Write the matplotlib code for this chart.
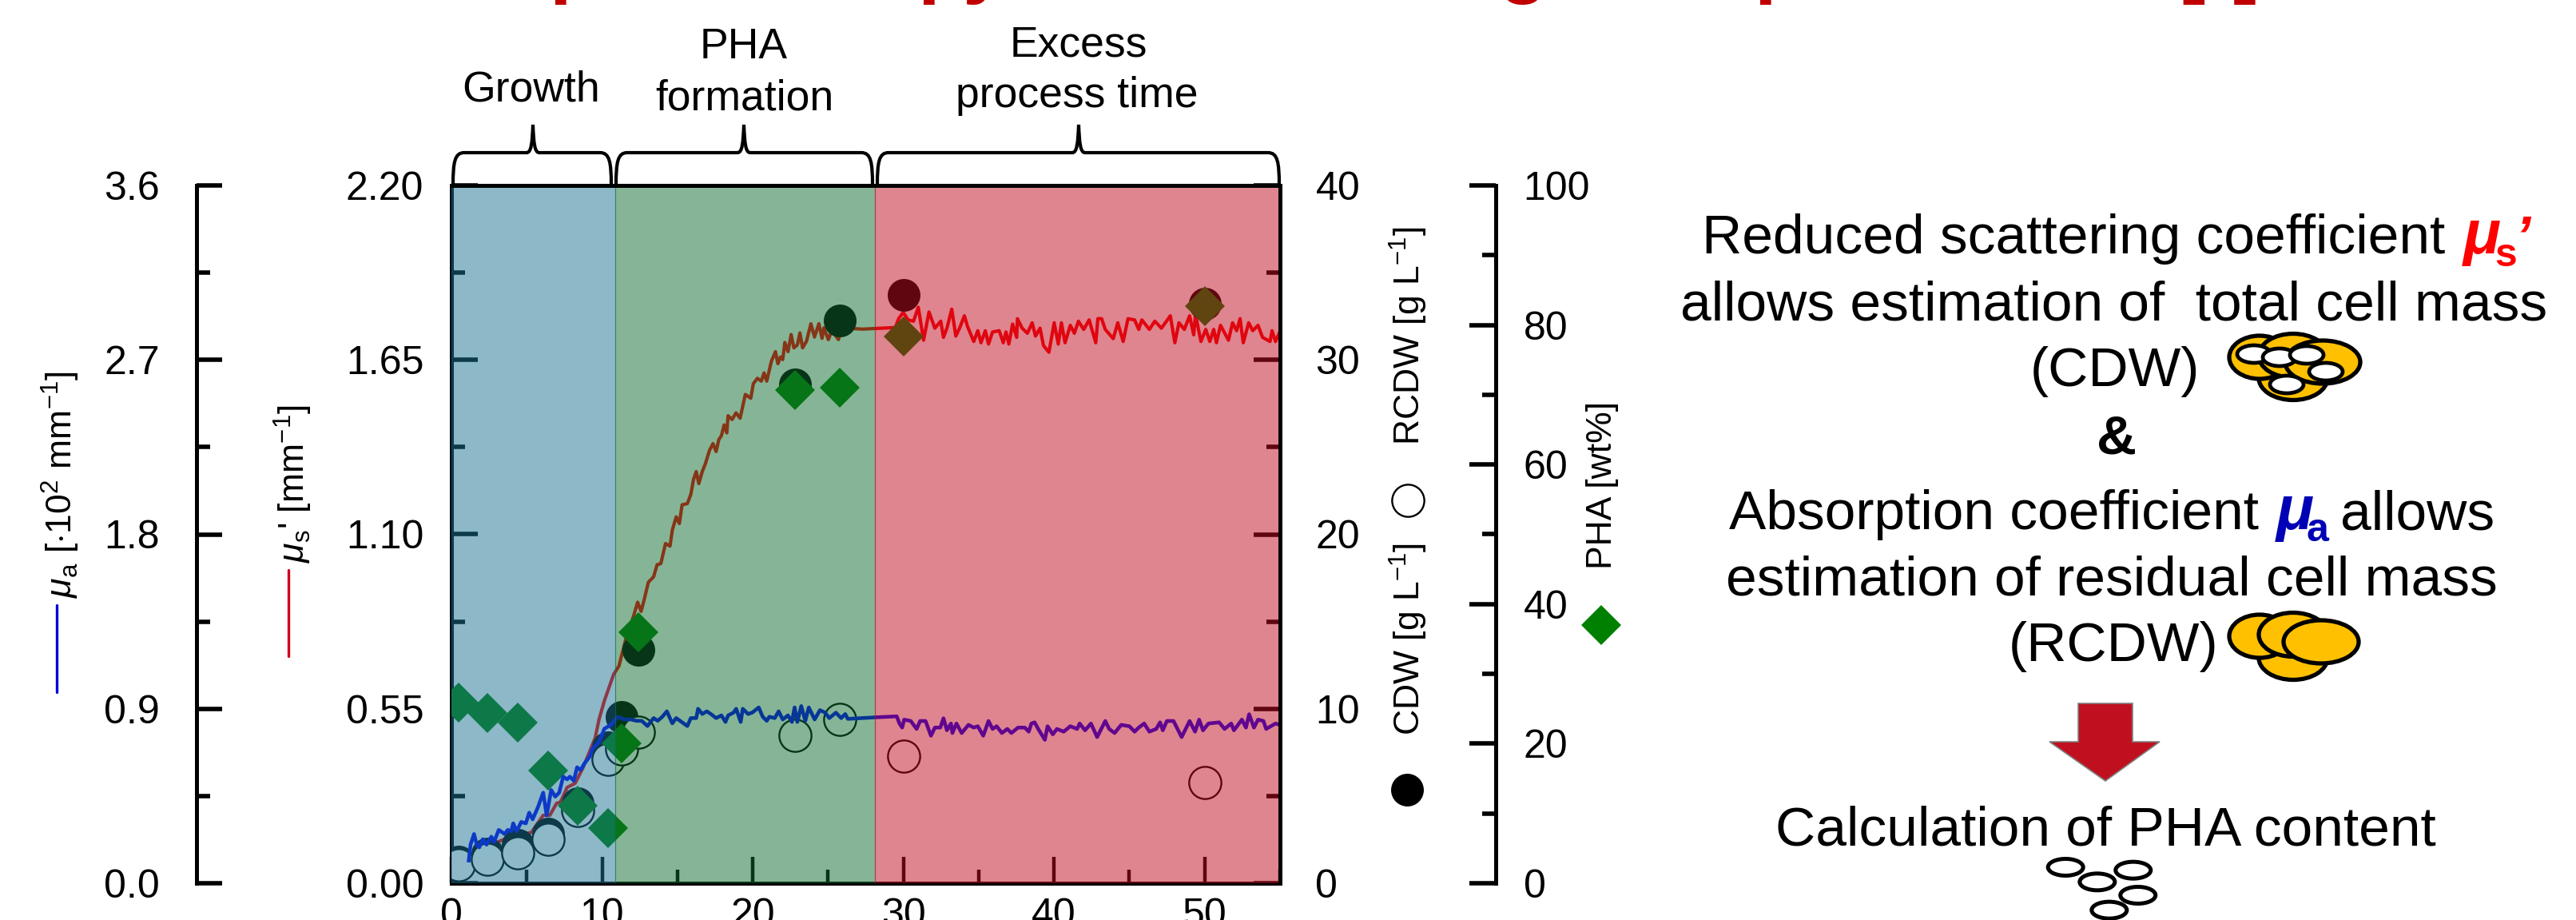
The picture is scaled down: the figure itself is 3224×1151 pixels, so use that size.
import matplotlib
matplotlib.use("Agg")
import matplotlib.pyplot as plt
from matplotlib.patches import Ellipse, PathPatch, Polygon
from matplotlib.path import Path
from matplotlib.ticker import MultipleLocator

plt.rcParams["font.family"] = ["Liberation Sans", "DejaVu Sans"]
plt.rcParams["mathtext.fontset"] = "custom"
plt.rcParams["mathtext.rm"] = "Liberation Sans"
plt.rcParams["mathtext.it"] = "Liberation Sans:italic"
plt.rcParams["mathtext.bf"] = "Liberation Sans:bold"

# offline samples
t_samples = [0.5, 2.4, 4.4, 6.4, 8.4, 10.4, 11.3, 12.4, 22.8, 25.8, 30.0, 50.0]
cdw = [1.24, 1.70, 2.20, 2.84, 4.58, 7.8, 9.53, 13.4, 28.6, 32.26, 33.7, 33.2]
rcdw = [1.05, 1.37, 1.74, 2.52, 4.17, 7.1, 7.7, 8.66, 8.48, 9.39, 7.29, 5.77]
pha = [25.9, 24.4, 23.0, 16.2, 11.1, 7.9, 20.0, 36.0, 70.7, 71.0, 78.4, 82.7]

# reduced scattering coefficient
t_mus = [1.15, 1.77, 2.65, 3.53, 4.42, 5.30, 6.09, 6.53, 6.98, 7.24, 7.68, 8.21, 8.74, 9.18, 9.54, 9.80,
         10.15, 10.77, 11.12, 11.57, 12.10, 12.36, 12.59, 12.80, 13.07, 13.42, 13.65, 13.90, 14.21, 14.51,
         14.66, 14.92, 15.13, 15.31, 15.66, 15.89, 16.07, 16.25, 16.42, 16.65, 16.86, 17.13, 17.36, 17.57,
         17.75, 17.92, 18.10, 18.28, 18.36, 18.63, 18.89, 19.16, 19.51, 19.87, 20.04, 20.31, 20.57, 20.75,
         20.93, 21.24, 21.51, 21.67, 21.84, 21.99, 22.13, 22.34, 22.55, 22.73, 22.96, 23.13, 23.31, 23.57,
         23.86, 24.10, 24.39, 24.60, 24.72, 25.02, 25.25, 25.69, 25.87, 27.28, 29.46, 29.69, 29.99, 30.31,
         30.67, 30.99, 31.34, 31.70, 32.09, 32.48, 32.66, 32.89, 33.21, 33.48, 33.73, 34.05, 34.26, 34.67,
         34.94, 35.15, 35.44, 35.65, 35.92, 36.36, 36.63, 36.81, 37.00, 37.25, 37.52, 37.57, 37.88, 38.23,
         38.55, 38.77, 39.07, 39.30, 39.66, 40.01, 40.28, 40.49, 40.73, 41.08, 41.35, 41.62, 41.97, 42.33,
         42.77, 42.91, 43.16, 43.40, 43.93, 44.23, 44.59, 44.91, 45.35, 45.62, 45.83, 46.33, 46.69, 47.13,
         47.72, 48.02, 48.29, 48.65, 49.00, 49.27, 49.39, 49.75, 50.07, 50.34, 50.60, 50.78, 51.05, 51.58,
         51.85, 52.12, 52.35, 52.56, 52.92, 53.19, 53.54, 53.84, 54.34, 54.47, 54.70, 54.98]
mus = [0.071, 0.109, 0.122, 0.139, 0.151, 0.160, 0.214, 0.214, 0.252, 0.256, 0.302, 0.315, 0.365, 0.416, 0.458, 0.517,
       0.575, 0.659, 0.685, 0.769, 0.844, 0.886, 0.857, 0.895, 0.949, 0.966, 1.004, 1.008, 1.071, 1.063,
       1.113, 1.155, 1.134, 1.193, 1.197, 1.226, 1.273, 1.298, 1.260, 1.298, 1.323, 1.365, 1.386, 1.361,
       1.399, 1.411, 1.445, 1.420, 1.474, 1.462, 1.483, 1.466, 1.541, 1.529, 1.575, 1.592, 1.583, 1.609,
       1.583, 1.646, 1.676, 1.638, 1.659, 1.651, 1.705, 1.676, 1.730, 1.688, 1.697, 1.735, 1.688, 1.709,
       1.764, 1.722, 1.764, 1.718, 1.751, 1.714, 1.743, 1.714, 1.751, 1.747, 1.752, 1.780, 1.800, 1.776,
       1.772, 1.816, 1.712, 1.801, 1.750, 1.772, 1.721, 1.750, 1.810, 1.725, 1.750, 1.789, 1.755, 1.708,
       1.742, 1.704, 1.742, 1.700, 1.738, 1.742, 1.704, 1.738, 1.700, 1.763, 1.721, 1.780, 1.750, 1.734,
       1.767, 1.725, 1.750, 1.695, 1.674, 1.767, 1.700, 1.767, 1.704, 1.759, 1.734, 1.772, 1.746, 1.776,
       1.704, 1.780, 1.780, 1.746, 1.717, 1.767, 1.708, 1.780, 1.776, 1.746, 1.776, 1.746, 1.772, 1.750,
       1.789, 1.704, 1.767, 1.746, 1.789, 1.729, 1.793, 1.708, 1.746, 1.708, 1.746, 1.704, 1.759, 1.712,
       1.767, 1.742, 1.780, 1.704, 1.767, 1.742, 1.759, 1.721, 1.708, 1.742, 1.708, 1.738]

# absorption coefficient
t_mua = [1.15, 1.27, 1.50, 1.68, 1.85, 2.08, 2.33, 2.65, 2.83, 3.14, 3.53, 3.74, 3.97, 4.10, 4.33, 4.63, 4.94, 5.16,
         5.39, 5.74, 6.09, 6.32, 6.62, 6.89, 7.15, 7.42, 7.68, 7.86, 8.12, 8.34, 8.57, 8.83, 9.18, 9.36, 9.80,
         10.15, 10.60, 11.04, 11.48, 11.92, 12.27, 12.63, 13.01, 13.42, 13.69, 14.00, 14.30, 14.66, 14.92, 15.28,
         15.66, 15.89, 16.25, 16.37, 16.65, 16.95, 17.22, 17.57, 17.92, 18.19, 18.37, 18.72, 18.90, 19.20, 19.34,
         19.69, 19.96, 20.40, 20.66, 20.93, 21.10, 21.46, 21.72, 21.99, 22.34, 22.60, 22.78, 22.96, 23.22, 23.49,
         23.72, 24.11, 24.46, 24.81, 25.08, 25.52, 25.87, 26.14, 26.31, 28.17, 29.56, 29.74, 29.92, 30.05, 30.49,
         30.88, 31.11, 31.47, 31.83, 32.09, 32.45, 32.66, 32.89, 33.16, 33.25, 33.52, 33.87, 34.32, 34.67, 34.94,
         35.30, 35.65, 35.92, 36.19, 36.54, 36.90, 37.17, 37.61, 38.06, 38.32, 38.50, 38.71, 38.95, 39.39, 39.57,
         39.92, 40.19, 40.64, 41.08, 41.53, 41.70, 42.06, 42.45, 42.86, 43.40, 43.66, 44.02, 44.46, 45.00, 45.35,
         45.62, 45.98, 46.33, 46.78, 47.04, 47.22, 47.49, 47.93, 48.47, 49.00, 49.36, 49.63, 49.89, 50.25, 50.96,
         51.32, 51.76, 51.94, 52.47, 52.74, 52.95, 53.27, 53.54, 53.90, 54.08, 54.70, 54.98]
mua = [0.117, 0.199, 0.254, 0.199, 0.185, 0.227, 0.199, 0.240, 0.213, 0.275, 0.254, 0.275, 0.268, 0.309, 0.268, 0.316, 0.309, 0.364,
       0.330, 0.392, 0.467, 0.350, 0.481, 0.447, 0.467, 0.550, 0.536, 0.550, 0.529, 0.598, 0.584, 0.618, 0.653, 0.694, 0.728,
       0.797, 0.818, 0.859, 0.845, 0.845, 0.838, 0.838, 0.811, 0.852, 0.838, 0.859, 0.887, 0.825, 0.852, 0.832,
       0.811, 0.852, 0.852, 0.900, 0.873, 0.887, 0.873, 0.852, 0.866, 0.832, 0.866, 0.880, 0.900, 0.832, 0.900,
       0.873, 0.880, 0.907, 0.859, 0.838, 0.859, 0.852, 0.887, 0.845, 0.866, 0.832, 0.907, 0.832, 0.914, 0.838,
       0.907, 0.845, 0.893, 0.880, 0.852, 0.880, 0.852, 0.873, 0.848, 0.856, 0.861, 0.824, 0.803, 0.844, 0.837,
       0.796, 0.837, 0.837, 0.761, 0.803, 0.803, 0.851, 0.789, 0.824, 0.775, 0.824, 0.775, 0.817, 0.803, 0.810,
       0.761, 0.837, 0.796, 0.810, 0.775, 0.796, 0.775, 0.803, 0.803, 0.782, 0.824, 0.830, 0.796, 0.740, 0.810,
       0.768, 0.796, 0.782, 0.810, 0.796, 0.824, 0.789, 0.824, 0.754, 0.837, 0.796, 0.775, 0.817, 0.810, 0.782,
       0.803, 0.824, 0.782, 0.796, 0.830, 0.789, 0.837, 0.837, 0.754, 0.837, 0.782, 0.844, 0.789, 0.824, 0.830,
       0.796, 0.824, 0.789, 0.844, 0.803, 0.872, 0.803, 0.844, 0.837, 0.796, 0.824, 0.817]

phase_edges = [0, 10.85, 28.1, 55]
phase_colors = ["#1a7291", "#0c6c2e", "#c10c20"]

W, H = 3224, 1151
L, R, T, B = 565, 1602, 232, 1105

fig = plt.figure(figsize=(W / 100, H / 100), dpi=100, facecolor="white")
rect = [L / W, (H - B) / H, (R - L) / W, (B - T) / H]
ax = fig.add_axes(rect, zorder=1)
ax_cdw = ax.twinx()
ax_pha = ax.twinx()
ax_mua = ax.twinx()
ax_cdw.set_zorder(2)
ax_pha.set_zorder(3)
ax_mua.set_zorder(4)

ax.plot(t_mus, mus, color="#ff0000", lw=3.0)
ax_mua.plot(t_mua, mua, color="#0000ff", lw=3.3)
ax_cdw.plot(t_samples, cdw, "o", color="black", ms=29.5, mew=0)
# the open circles are white inside, so they hide what lies behind them
ax_cdw.plot(t_samples, rcdw, "o", mfc="white", mec="black", ms=29, mew=1.7)
ax_pha.plot(t_samples, pha, "D", color="#008000", ms=25, mew=0)

ax.set_xlim(0, 55)
ax.set_ylim(0, 2.2)
ax_mua.set_ylim(0, 3.6)
ax_cdw.set_ylim(0, 40)
ax_pha.set_ylim(0, 100)

ax.set_xticks([0, 10, 20, 30, 40, 50])
ax.xaxis.set_minor_locator(MultipleLocator(5))
ax.set_yticks([0, 0.55, 1.1, 1.65, 2.2], ["0.00", "0.55", "1.10", "1.65", "2.20"])
ax.yaxis.set_minor_locator(MultipleLocator(0.275))
ax_mua.set_yticks([0, 0.9, 1.8, 2.7, 3.6], ["0.0", "0.9", "1.8", "2.7", "3.6"])
ax_mua.yaxis.set_minor_locator(MultipleLocator(0.45))
ax_cdw.set_yticks([0, 10, 20, 30, 40])
ax_cdw.yaxis.set_minor_locator(MultipleLocator(5))
ax_pha.set_yticks([0, 20, 40, 60, 80, 100])
ax_pha.yaxis.set_minor_locator(MultipleLocator(10))

for a in [ax, ax_cdw, ax_pha, ax_mua]:
    for s in a.spines.values():
        s.set_visible(False)
        s.set_linewidth(3.6)

ax.spines["left"].set_visible(True)
ax.spines["bottom"].set_visible(True)
ax_mua.spines["left"].set_visible(True)
ax_mua.spines["left"].set_position(("axes", (246 - L) / (R - L)))
ax_pha.spines["right"].set_visible(True)
ax_pha.spines["right"].set_position(("axes", (1872 - L) / (R - L)))

ax_mua.yaxis.set_ticks_position("left")
ax_mua.yaxis.set_label_position("left")

ax.tick_params(axis="both", which="major", direction="in", length=24, width=4, labelsize=36)
ax.tick_params(axis="both", which="minor", direction="in", length=12, width=4)
ax.tick_params(axis="x", which="major", length=24, width=3.2, pad=13)
ax.tick_params(axis="x", which="minor", length=12, width=3.2)
ax.tick_params(axis="y", which="major", pad=25)
ax_mua.tick_params(axis="y", which="major", direction="in", length=23, width=4, labelsize=36, pad=33)
ax_mua.tick_params(axis="y", which="minor", direction="in", length=12, width=4)
ax_cdw.tick_params(axis="y", which="major", direction="in", length=24, width=4, labelsize=36, pad=32)
ax_cdw.tick_params(axis="y", which="minor", direction="in", length=12, width=4)
ax_pha.tick_params(axis="y", which="major", direction="in", length=24, width=4, labelsize=36, pad=25)
ax_pha.tick_params(axis="y", which="minor", direction="in", length=12, width=4)

# phases sit on top of the data, translucent
ax_top = fig.add_axes(rect, zorder=10)
ax_top.patch.set_visible(False)
ax_top.set_xlim(0, 55)
ax_top.set_xticks([])
ax_top.set_yticks([])
for i in range(3):
    ax_top.axvspan(phase_edges[i], phase_edges[i + 1], facecolor=phase_colors[i], edgecolor=phase_colors[i], lw=0.8, alpha=0.5)
for name, s in ax_top.spines.items():
    s.set_visible(name in ("top", "right"))
    s.set_linewidth(3.6)
ax_top.set_xlim(0, 55)

# everything around the plot, in picture pixels
page = fig.add_axes([0, 0, 1, 1], zorder=20)
page.set_xlim(0, W)
page.set_ylim(H, 0)
page.axis("off")


def brace(x0, xc, x1):
    yb, yt, yn = 232, 191, 156
    verts = [(x0, yb), (x0, yt + 12), (x0 + 2, yt), (x0 + 14, yt), (xc - 8, yt),
             (xc - 2, yt), (xc - 1, yt - 12), (xc, yn),
             (xc + 1, yt - 12), (xc + 2, yt), (xc + 8, yt), (x1 - 14, yt),
             (x1 - 2, yt), (x1, yt + 12), (x1, yb)]
    codes = [Path.MOVETO, Path.CURVE4, Path.CURVE4, Path.CURVE4, Path.LINETO,
             Path.CURVE4, Path.CURVE4, Path.CURVE4,
             Path.CURVE4, Path.CURVE4, Path.CURVE4, Path.LINETO,
             Path.CURVE4, Path.CURVE4, Path.CURVE4]
    page.add_patch(PathPatch(Path(verts, codes), fc="none", ec="black", lw=3))


brace(567, 667, 765)
brace(771, 931, 1092)
brace(1098, 1350, 1601)


def label(x, y, s, size, **kw):
    kw.setdefault("ha", "center")
    kw.setdefault("va", "baseline")
    page.text(x, y, s, fontsize=size, **kw)


label(665, 126, "Growth", 38.5)
label(931, 73, "PHA", 38.5)
label(932, 137, "formation", 38.5)
label(1350, 70, "Excess", 38.5)
label(1348, 134, "process time", 38.5)

# axis captions
label(76, 748, r"$\mu_{\mathrm{a}}$ [$\cdot$10$^{2}$ mm$^{-1}$]", 32, rotation=90, ha="center", va="bottom")
label(367, 704, r"$\mu_{\mathrm{s}}$' [mm$^{-1}$]", 32, rotation=90, ha="center", va="bottom")
label(1763, 557, "RCDW [g L$^{-1}$]", 32, rotation=90, ha="center", va="bottom")
label(1763, 920, "CDW [g L$^{-1}$]", 32, rotation=90, ha="center", va="bottom")
label(2005, 712, "PHA [wt%]", 32, rotation=90, ha="center", va="bottom")
page.plot([71, 71], [757, 866], color="#0000dd", lw=2.4, solid_capstyle="round")
page.plot([361, 361], [713, 821], color="#d2001e", lw=2.4, solid_capstyle="round")
page.plot([1762], [626], "o", mfc="none", mec="black", ms=29, mew=1.7)
page.plot([1761], [988], "o", color="black", ms=29.5, mew=0)
page.plot([2004], [782], "D", color="#008000", ms=25, mew=0)

# explanation on the right
size_txt = 50
label(2595, 317, "Reduced scattering coefficient", size_txt)
label(3083, 317, "μ", 56, ha="left", color="#ff0000", weight="bold", style="italic")
label(3122, 333, "s", 36, ha="left", color="#ff0000", weight="bold")
label(3148, 317, "’", size_txt, ha="left", color="#ff0000", weight="bold", style="italic")
label(2646, 400, "allows estimation of  total cell mass", size_txt)
label(2647, 483, "(CDW)", size_txt)
label(2649, 567, "&", 50, weight="bold")
label(2495, 662, "Absorption coefficient", size_txt)
label(2849, 662, "μ", 56, ha="left", color="#0000b4", weight="bold", style="italic")
label(2887, 677, "a", 36, ha="left", color="#0000b4", weight="bold")
label(3026, 662, "allows", size_txt)
label(2643, 744, "estimation of residual cell mass", size_txt)
label(2645, 827, "(RCDW)", size_txt)
label(2635, 1057, "Calculation of PHA content", size_txt)

page.add_patch(Polygon([(2601, 880), (2669, 880), (2669, 928), (2703, 928), (2635, 977),
                        (2565, 928), (2601, 928)], closed=True, fc="#c01020", ec="#808080", lw=1.2))


def cells(group, inner=()):
    for (cx, cy, w, h) in group:
        page.add_patch(Ellipse((cx, cy), w, h, fc="#ffc000", ec="black", lw=3.8))
    for (cx, cy) in inner:
        page.add_patch(Ellipse((cx, cy), 42, 22, fc="white", ec="black", lw=3.4))


cells([(2870, 473, 86, 55), (2828, 447, 76, 54), (2870, 445, 86, 55), (2907, 453, 94, 54)],
      [(2821, 443), (2853, 447), (2887, 444), (2911, 465), (2862, 481)])
cells([(2870, 823, 86, 55), (2828, 796, 76, 54), (2870, 794, 86, 55), (2905, 803, 94, 54)])

for (zx, zy) in [(715, 1305), (828, 1316), (768, 1360), (836, 1410), (788, 1466)]:
    page.add_patch(Ellipse((2050 + zx / 1.336, 650 + zy / 3), 44, 21, fc="white", ec="black", lw=3.6))

# heading cut off by the top edge, only descenders remain
for (x, s) in [(687, "p"), (1148, "p"), (1204, "y"), (1876, "g"), (2195, "p"), (2726, "["), (2795, "]")]:
    page.text(x, -15, s, fontsize=72, weight="bold", color="#c00000", ha="left", va="baseline")

fig.savefig("out.png", dpi=100)
